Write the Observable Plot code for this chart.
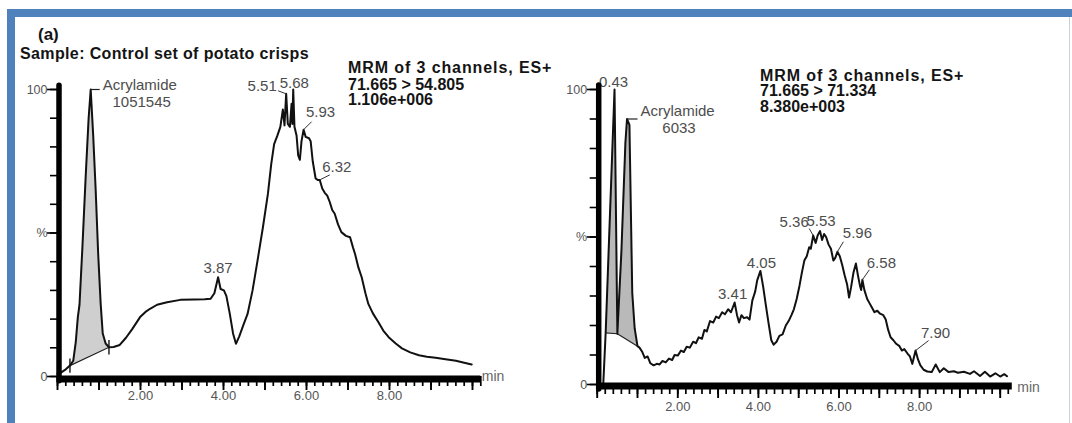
<!DOCTYPE html>
<html lang="en">
<head>
<meta charset="utf-8">
<title>Acrylamide MRM chromatograms</title>
<script src="https://cdn.jsdelivr.net/npm/d3@7"></script>
<script src="https://cdn.jsdelivr.net/npm/@observablehq/plot@0.6"></script>
<style>
  html, body { margin: 0; padding: 0; background: #fff; }
  #figure { position: relative; width: 1072px; height: 423px; overflow: hidden; background: #fff;
            font-family: "Liberation Sans", Arial, Helvetica, sans-serif; }
  .panel { position: absolute; top: 0; }
  .panel svg { display: block; max-width: none; }
  .rule { position: absolute; background: #4f81bd; z-index: 5; }
  .hdr { position: absolute; white-space: nowrap; font-weight: bold; color: #141414; line-height: 1; }
</style>
</head>
<body>
<div id="figure">
  <div class="rule" style="left:7px;top:9px;width:1065px;height:8px"></div>
  <div class="rule" style="left:7px;top:9px;width:8px;height:414px"></div>
  <div class="rule" style="left:1069px;top:17px;width:1px;height:406px;background:#c9d2de"></div>
  <div id="left" class="panel" style="left:0;width:540px"></div>
  <div id="right" class="panel" style="left:540px;width:532px"></div>
</div>
<script>
// ---- Control set of potato crisps, transition 71.665 > 54.805 (retention time in min, intensity in %)
const controlTimes = [
  0.00, 0.10, 0.20, 0.30, 0.38, 0.44, 0.49, 0.53, 0.60, 0.68, 0.75, 0.80, 0.86, 0.92, 0.98,
  1.04, 1.09, 1.16, 1.24, 1.35, 1.50, 1.65, 1.80, 1.99, 2.12, 2.23, 2.40, 2.64, 2.96, 3.30,
  3.55, 3.69, 3.78, 3.87, 3.93, 4.01, 4.07, 4.15, 4.23, 4.30, 4.38, 4.48, 4.58, 4.70, 4.82,
  4.95, 5.07, 5.15, 5.22, 5.30, 5.37, 5.43, 5.47, 5.51, 5.55, 5.60, 5.64, 5.66, 5.68, 5.71,
  5.76, 5.80, 5.84, 5.88, 5.93, 5.98, 6.06, 6.10, 6.15, 6.22, 6.27, 6.32, 6.38, 6.44, 6.50,
  6.56, 6.62, 6.68, 6.76, 6.84, 6.95, 7.05, 7.12, 7.17, 7.25, 7.33, 7.42, 7.49, 7.60, 7.73,
  7.85, 7.98, 8.15, 8.30, 8.50, 8.71, 8.90, 9.11, 9.35, 9.60, 9.80, 9.98
];
const controlSignal = [
  1.0, 1.5, 2.5, 3.8, 5.5, 12, 20.7, 25, 45, 70, 90, 100, 84, 65, 42.8,
  25.4, 15, 11.5, 10.2, 10.3, 11, 13.5, 16.5, 20.7, 22.5, 23.6, 25, 25.9, 26.7, 26.8,
  26.9, 27.1, 29, 34.6, 30.5, 30.0, 28, 22, 15, 11.4, 14, 18, 21.8, 30, 40.4,
  52, 63.6, 74, 81, 84, 87, 93, 87.5, 98.5, 88, 87, 95, 88, 100, 87,
  84, 77, 75.5, 82, 86, 83.5, 83, 82, 75, 69, 68.5, 68.5, 65.5, 64, 63,
  60.8, 58, 56.7, 53, 50.3, 49, 48.5, 45, 42.7, 38, 34.6, 29, 25.3, 22, 19,
  16, 13.7, 11.5, 9.8, 8.4, 7.4, 6.9, 6.5, 6.0, 5.5, 4.8, 4.2
];

// ---- Second sample, transition 71.665 > 71.334
const sampleTimes = [
  0.15, 0.21, 0.43, 0.50, 0.60, 0.70, 0.74, 0.80, 0.87, 0.93, 1.00, 1.05, 1.12, 1.18, 1.25,
  1.32, 1.40, 1.48, 1.55, 1.62, 1.70, 1.78, 1.86, 1.92, 2.00, 2.08, 2.15, 2.22, 2.30, 2.38,
  2.45, 2.52, 2.60, 2.66, 2.72, 2.80, 2.88, 2.95, 3.02, 3.10, 3.17, 3.25, 3.32, 3.41, 3.47,
  3.52, 3.58, 3.64, 3.72, 3.78, 3.85, 3.92, 3.97, 4.05, 4.12, 4.18, 4.25, 4.32, 4.38, 4.45,
  4.52, 4.60, 4.68, 4.75, 4.82, 4.88, 4.95, 5.02, 5.08, 5.14, 5.20, 5.26, 5.30, 5.36, 5.42,
  5.47, 5.53, 5.58, 5.63, 5.68, 5.74, 5.80, 5.86, 5.91, 5.96, 6.02, 6.08, 6.14, 6.20, 6.25,
  6.30, 6.36, 6.42, 6.47, 6.52, 6.55, 6.58, 6.63, 6.70, 6.76, 6.82, 6.88, 6.95, 7.02, 7.10,
  7.16, 7.22, 7.28, 7.35, 7.42, 7.50, 7.56, 7.62, 7.70, 7.76, 7.82, 7.90, 7.96, 8.02, 8.10,
  8.19, 8.30, 8.40, 8.50, 8.60, 8.72, 8.85, 8.95, 9.10, 9.25, 9.35, 9.50, 9.62, 9.75, 9.88,
  10.00, 10.10, 10.17
];
const sampleSignal = [
  0, 17.5, 100, 17.2, 45, 82, 90, 88, 31, 19, 13, 12.5, 11, 9, 9.5,
  7.2, 6.5, 7.0, 6.8, 8.0, 7.5, 8.8, 8.3, 10.0, 9.8, 11.5, 11.0, 12.8, 12.5, 14.5,
  14.0, 16.0, 15.5, 18.5, 18.0, 21.5, 21.0, 23.0, 22.5, 24.5, 23.8, 25.5, 24.5, 27.8, 23.5,
  21.0, 23.5, 22.5, 22.8, 22.0, 28.5, 31.5, 35.3, 38.5, 33, 27.3, 21, 15, 13.5, 14.5,
  16.5, 17, 20, 21.5, 23.5, 25.5, 29, 33.5, 38, 42, 43.5, 46.5, 46, 50.5, 48,
  50.5, 52, 49, 51, 50, 47.5, 46, 42, 43, 45, 43.5, 40.5, 37, 34, 29.5,
  33, 38, 41, 37, 33.5, 32, 35.5, 32, 29, 27.5, 26, 24.5, 25, 24, 23.5,
  22, 18.5, 16, 15, 13.8, 13, 11.5, 12, 10.5, 9.5, 7, 11.5, 8.5, 6.5, 5.0,
  4.4, 4.2, 6.8, 4.2, 5.5, 4.2, 4.5, 4.0, 4.3, 3.6, 4.5, 2.9, 4.3, 2.7, 3.8,
  2.7, 3.5, 2.8
];

// ---- Annotated peaks (retention times printed over the trace)
const controlPeakTimes = [3.87, 5.51, 5.68, 5.93, 6.32];
const samplePeakTimes = [0.43, 3.41, 4.05, 5.36, 5.53, 5.96, 6.58, 7.90];

// ---- Integrated acrylamide peak: apex time, integration limits, area
const compoundName = "Acrylamide";
const controlAcrylamide = {apex: 0.80, start: 0.30, end: 1.24, area: "1051545"};
const sampleAcrylamide = {apex: 0.74, start: 0.50, end: 1.00, area: "6033"};
const sampleFrontPeak = {start: 0.21, end: 0.50};

// ---- Axis ticks and labels
const xLabelTicks = [2, 4, 6, 8];
const yLabelValues = [0, 50, 100];
const yLabelTexts = ["0", "%", "100"];

// ---- Header texts
const panelTag = "(a)";
const sampleTitle = "Sample: Control set of potato crisps";
const controlInfo = ["MRM of 3 channels, ES+", "71.665 > 54.805", "1.106e+006"];
const sampleInfo = ["MRM of 3 channels, ES+", "71.665 > 71.334", "8.380e+003"];

const FONT = '"Liberation Sans", Arial, Helvetica, sans-serif';

function chromatogram(cfg) {
  const {times, signal, width, height, originX, pxPerMin, xMax, zeroY, fullY,
         peakTimes, labelPlace, leaders, acryl, acrylText, shaded, fillColor,
         tickPad, minDx, minDy, markers, axisDy} = cfg;
  const pts = times.map((t, i) => ({t, v: signal[i]}));
  const valueAt = t => signal[times.indexOf(t)];
  const pxPerPct = (zeroY - fullY) / 100;
  // move a data point by a pixel offset, expressed back in data units
  const shift = (t, v, dx, dy) => ({t: t + dx / pxPerMin, v: v - dy / pxPerPct});

  // shaded regions between the trace and a straight integration baseline
  const region = (t0, t1) => {
    const v0 = valueAt(t0), v1 = valueAt(t1);
    return pts.filter(p => p.t >= t0 && p.t <= t1)
      .map(p => ({t: p.t, hi: p.v, lo: v0 + (v1 - v0) * (p.t - t0) / (t1 - t0)}));
  };

  const peaks = peakTimes.map(t => {
    const v = valueAt(t), name = t.toFixed(2);
    const [dx, dy] = labelPlace[name];
    const lp = shift(t, v, dx, dy);
    const lead = leaders[name];
    const end = lead ? shift(t, v, lead[0], lead[1]) : null;
    return {t, v, name, lt: lp.t, lv: lp.v, et: end && end.t, ev: end && end.v};
  });

  const apexV = valueAt(acryl.apex);
  const nameAt = shift(acryl.apex, apexV, acrylText.name[0], acrylText.name[1]);
  const areaAt = shift(acryl.apex, apexV, acrylText.area[0], acrylText.area[1]);
  const leadEnd = shift(acryl.apex, apexV, acrylText.lead, 0);

  // heavy time axis bar: about 7 px tall, sitting on zero
  const barTop = shift(0, 0, 0, axisDy - 3.5).v;
  const barBottom = shift(0, 0, 0, axisDy + 3.5).v;

  const marks = [];
  for (const [t0, t1] of shaded) {
    marks.push(Plot.areaY(region(t0, t1), {x: "t", y1: "lo", y2: "hi", fill: fillColor}));
    marks.push(Plot.line([{t: t0, v: valueAt(t0)}, {t: t1, v: valueAt(t1)}],
      {x: "t", y: "v", stroke: "#222", strokeWidth: 1.2}));
  }
  if (markers) {
    marks.push(Plot.link(markers.map(t => ({t, lo: valueAt(t) - 2.5, hi: valueAt(t) + 2.5})),
      {x1: "t", x2: "t", y1: "lo", y2: "hi", stroke: "#111", strokeWidth: 1.4}));
  }
  marks.push(
    Plot.line(pts, {x: "t", y: "v", stroke: "#111", strokeWidth: 2, strokeLinejoin: "round"}),
    // leader lines from the labels to their peaks
    Plot.link(peaks.filter(p => p.et != null), {x1: "t", y1: "v", x2: "et", y2: "ev", stroke: "#333", strokeWidth: 1}),
    Plot.link([{t: acryl.apex, v: apexV, et: leadEnd.t}], {x1: "t", y1: "v", x2: "et", y2: "v", stroke: "#222", strokeWidth: 1.2}),
    Plot.text(peaks, {x: "lt", y: "lv", text: "name", fontSize: 15, fill: "#4d4d4d", fontFamily: FONT}),
    Plot.text([compoundName], {x: () => nameAt.t, y: () => nameAt.v, text: d => d, textAnchor: "start",
      fontSize: 15, fill: "#4d4d4d", fontFamily: FONT}),
    Plot.text([acryl.area], {x: () => areaAt.t, y: () => areaAt.v, text: d => d,
      fontSize: 15, fill: "#4d4d4d", fontFamily: FONT}),
    // time axis: minor ticks, whole-minute ticks
    Plot.axisX(d3.range(0, Math.floor(xMax * 5) + 1).map(i => i / 5),
      {tickSize: 10, strokeWidth: 1.7, stroke: "#000", tickFormat: () => ""}),
    Plot.axisX(d3.range(0, Math.floor(xMax) + 1),
      {tickSize: 14, strokeWidth: 1.9, stroke: "#000", tickFormat: () => ""}),
    // time labels
    Plot.text(xLabelTicks, {x: d => d, y: () => 0, text: d3.format(".2f"), dy: tickPad,
      fill: "#555", fontSize: 13, fontFamily: FONT}),
    // intensity axis ticks and labels
    Plot.axisY(d3.range(0, 101, 10), {tickSize: 7, strokeWidth: 1.6, stroke: "#000", tickFormat: () => ""}),
    Plot.axisY(yLabelValues, {tickSize: 10, strokeWidth: 1.6, stroke: "#000", tickFormat: () => ""}),
    Plot.text(yLabelValues, {x: () => 0, y: d => d, text: d => yLabelTexts[yLabelValues.indexOf(d)],
      textAnchor: "end", dx: -10, fill: "#555", fontSize: 12.5, fontFamily: FONT}),
    // heavy axis lines
    Plot.rect([0], {x1: 0, x2: xMax, y1: () => barBottom, y2: () => barTop, fill: "#000"}),
    Plot.line([{t: 0, v: -1.5}, {t: 0, v: 101.5}], {x: "t", y: "v", stroke: "#000", strokeWidth: 5.5, dx: 1.5}),
    Plot.text(["min"], {frameAnchor: "bottom-right", textAnchor: "start", dx: minDx, dy: minDy,
      fontSize: 14, fill: "#666", fontFamily: FONT})
  );

  return Plot.plot({
    width, height,
    marginLeft: originX,
    marginRight: width - (originX + xMax * pxPerMin),
    marginTop: fullY,
    marginBottom: height - zeroY,
    x: {domain: [0, xMax]},
    y: {domain: [0, 100]},
    style: {background: "transparent", overflow: "visible", fontFamily: FONT, fontSize: "12px", maxWidth: "none"},
    marks
  });
}

const left = chromatogram({
  times: controlTimes, signal: controlSignal,
  width: 540, height: 423, originX: 57, pxPerMin: 41.5, xMax: 10.2, zeroY: 376, fullY: 89,
  peakTimes: controlPeakTimes,
  labelPlace: {"3.87": [0, -9], "5.51": [-24, -8], "5.68": [1, -6], "5.93": [17, -17], "6.32": [17, -13]},
  leaders: {"5.51": [-8, -3], "5.93": [8, -8], "6.32": [10, -5]},
  acryl: controlAcrylamide, acrylText: {name: [12, -4], area: [51, 12.5], lead: 9},
  shaded: [[controlAcrylamide.start, controlAcrylamide.end]], fillColor: "#cfcfcf",
  markers: [controlAcrylamide.start, controlAcrylamide.end],
  tickPad: 19, minDx: 1, minDy: 4, axisDy: 3
});
document.getElementById("left").appendChild(left);

const right = chromatogram({
  times: sampleTimes, signal: sampleSignal,
  width: 532, height: 423, originX: 56.7, pxPerMin: 40.3, xMax: 10.3, zeroY: 384, fullY: 89,
  peakTimes: samplePeakTimes,
  labelPlace: {"0.43": [-1, -7], "3.41": [-2, -8], "4.05": [1, -8], "5.36": [-19, -13], "5.53": [1, -10],
               "5.96": [20, -19], "6.58": [19, -17], "7.90": [20, -17]},
  leaders: {"5.36": [-4, -7], "5.96": [6, -10], "6.58": [7, -10], "7.90": [13, -10]},
  acryl: sampleAcrylamide, acrylText: {name: [13.5, -7.5], area: [52, 9], lead: 10.5},
  shaded: [[sampleFrontPeak.start, sampleFrontPeak.end], [sampleAcrylamide.start, sampleAcrylamide.end]],
  fillColor: "#b9b9b9",
  markers: null,
  tickPad: 22, minDx: 5, minDy: 7, axisDy: 2
});
document.getElementById("right").appendChild(right);

// ---- header text, placed by baseline
const fig = document.getElementById("figure");
function addLine(text, left, baseline, size, spacing) {
  const el = document.createElement("div");
  el.className = "hdr";
  el.textContent = text;
  el.style.left = left + "px";
  el.style.fontSize = size + "px";
  el.style.letterSpacing = (spacing || 0) + "px";
  el.style.top = (baseline - 0.8465 * size) + "px";
  fig.appendChild(el);
}
addLine(panelTag, 38, 40, 17);
addLine(sampleTitle, 20, 60, 16, 0.37);
controlInfo.forEach((s, i) => addLine(s, 348, [74, 90.5, 106][i], 16, i === 0 ? 0.9 : 0));
sampleInfo.forEach((s, i) => addLine(s, 760, [81.5, 97, 113][i], 16, i === 0 ? 0.9 : 0));
</script>
</body>
</html>
